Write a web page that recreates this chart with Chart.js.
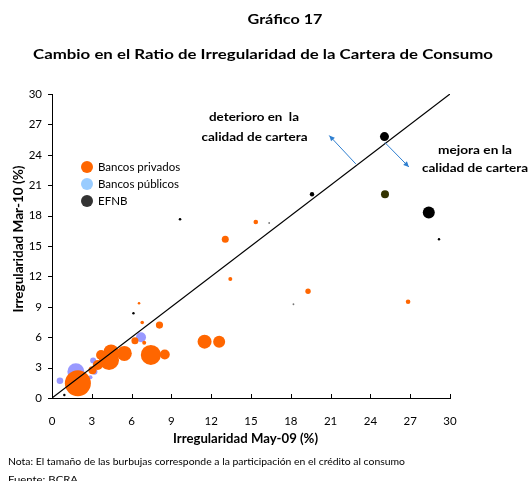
<!DOCTYPE html>
<html><head><meta charset="utf-8">
<script src="https://cdn.jsdelivr.net/npm/chart.js@4.4.1/dist/chart.umd.min.js"></script>
<style>html,body{margin:0;padding:0;background:#fff}canvas{display:block}</style>
</head><body>
<canvas id="c" width="530" height="481"></canvas>
<script>
// ---- Data ----
const xTicks = [0, 3, 6, 9, 12, 15, 18, 21, 24, 27, 30];
const yTicks = [0, 3, 6, 9, 12, 15, 18, 21, 24, 27, 30];

// Bancos privados: May-09 (x), Mar-10 (y), bubble size (r)
const privX = [1.95, 3.05, 3.45, 3.7, 4.3, 4.45, 5.45, 6.25, 6.95, 6.8, 6.56, 8.1, 7.45, 8.5, 11.5, 12.6, 13.44, 13.06, 15.36, 19.3, 26.84];
const privY = [1.45, 2.75, 3.25, 4.25, 3.75, 4.55, 4.4, 5.65, 5.45, 7.45, 9.35, 7.2, 4.25, 4.3, 5.56, 5.56, 11.75, 15.67, 17.37, 10.53, 9.5];
const privR = [13, 4, 5, 5, 10, 7.5, 7.5, 3.5, 2, 1.8, 1.3, 3.6, 10, 5, 7, 6, 2, 3.5, 2.3, 2.7, 2.3];

// Bancos públicos
const pubX = [0.6, 1.8, 3.1, 3.2, 2.9, 6.71];
const pubY = [1.7, 2.6, 3.7, 2.6, 2.05, 5.99];
const pubR = [3.3, 8.5, 3, 3, 2, 5];

// EFNB
const efnbX = [25.06, 25.1, 28.4, 19.6, 9.65, 29.17, 6.14, 0.93, 16.37, 18.2];
const efnbY = [25.8, 20.1, 18.3, 20.1, 17.64, 15.67, 8.36, 0.3, 17.27, 9.25];
const efnbR = [4.5, 4, 6, 2.2, 1.3, 1.2, 1.2, 1.2, 0.9, 0.9];
const efnbColors = ['#000000', '#333300', '#000000', '#000000', '#000000', '#000000', '#000000', '#000000', '#777777', '#777777'];

const legendLabels = ['Bancos privados', 'Bancos públicos', 'EFNB'];
const legendColors = ['#ff6600', '#99ccff', '#333333'];

const toPts = (xs, ys, rs) => xs.map((x, i) => ({x: x, y: ys[i], r: rs[i]}));

const FONT = 'Lato, "Open Sans", sans-serif';

// draw text centred (or left-aligned) stretched to a target width
function fitText(ctx, text, x, y, width, font, align) {
  ctx.save();
  ctx.font = font;
  const w = ctx.measureText(text).width;
  const s = width / w;
  ctx.translate(x, y);
  ctx.scale(s, 1);
  ctx.textAlign = align || 'center';
  ctx.textBaseline = 'middle';
  ctx.fillText(text, 0, 0);
  ctx.restore();
}

const overlay = {
  id: 'overlay',
  afterDraw(chart) {
    const ctx = chart.ctx;
    const xs = chart.scales.x, ys = chart.scales.y;
    const ca = chart.chartArea;
    ctx.save();
    // tick marks
    ctx.strokeStyle = '#000'; ctx.lineWidth = 1;
    xTicks.forEach(v => {
      const px = Math.round(xs.getPixelForValue(v)) + 0.5;
      ctx.beginPath(); ctx.moveTo(px, ca.bottom); ctx.lineTo(px, ca.bottom - 4); ctx.stroke();
    });
    yTicks.forEach(v => {
      const py = Math.round(ys.getPixelForValue(v)) + 0.5;
      ctx.beginPath(); ctx.moveTo(ca.left - 4, py); ctx.lineTo(ca.left, py); ctx.stroke();
    });

    ctx.fillStyle = '#000';
    const B14 = 'bold 14px ' + FONT, B12 = 'bold 12.5px ' + FONT, B11 = 'bold 12px ' + FONT;
    // titles
    fitText(ctx, 'Gráfico 17', 285, 19, 75, B14);
    fitText(ctx, 'Cambio en el Ratio de Irregularidad de la Cartera de Consumo', 263, 54, 460, B14);

    // axis titles
    fitText(ctx, 'Irregularidad May-09 (%)', 245.5, 439, 145, B12);
    ctx.save();
    ctx.translate(19, 239);
    ctx.rotate(-Math.PI / 2);
    fitText(ctx, 'Irregularidad Mar-10 (%)', 0, 0, 147, B12);
    ctx.restore();

    // annotations
    fitText(ctx, 'deterioro en  la', 254, 117, 90, B11);
    fitText(ctx, 'calidad de cartera', 254.5, 137, 106, B11);
    fitText(ctx, 'mejora en la', 475, 150, 74, B11);
    fitText(ctx, 'calidad de cartera', 475, 168, 106, B11);

    // arrows
    const arrow = (x1, y1, x2, y2) => {
      const p1x = xs.getPixelForValue(x1), p1y = ys.getPixelForValue(y1);
      const p2x = xs.getPixelForValue(x2), p2y = ys.getPixelForValue(y2);
      ctx.strokeStyle = '#2f7fd0'; ctx.fillStyle = '#2f7fd0'; ctx.lineWidth = 1;
      ctx.beginPath(); ctx.moveTo(p1x, p1y); ctx.lineTo(p2x, p2y); ctx.stroke();
      const a = Math.atan2(p2y - p1y, p2x - p1x);
      const L = 6, W = 0.45;
      ctx.beginPath();
      ctx.moveTo(p2x, p2y);
      ctx.lineTo(p2x - L * Math.cos(a - W), p2y - L * Math.sin(a - W));
      ctx.lineTo(p2x - L * Math.cos(a + W), p2y - L * Math.sin(a + W));
      ctx.closePath(); ctx.fill();
    };
    arrow(22.9, 23.1, 20.9, 25.9);
    arrow(25.1, 25.2, 26.9, 22.8);

    // legend
    legendLabels.forEach((lab, i) => {
      const cy = 167 + i * 17;
      ctx.fillStyle = legendColors[i];
      ctx.beginPath(); ctx.arc(87, cy, 6, 0, Math.PI * 2); ctx.fill();
    });
    ctx.fillStyle = '#000';
    ctx.font = '11.5px ' + FONT;
    ctx.textAlign = 'left';
    ctx.textBaseline = 'middle';
    legendLabels.forEach((lab, i) => {
      ctx.fillText(lab, 98, 167 + i * 17);
    });

    // footnote
    fitText(ctx, 'Nota: El tamaño de las burbujas corresponde a la participación en el crédito al consumo', 8, 462, 397, '10px ' + FONT, 'left');
    fitText(ctx, 'Fuente: BCRA', 8, 480, 70, '10px ' + FONT, 'left');
    ctx.restore();
  }
};

new Chart(document.getElementById('c'), {
  type: 'bubble',
  data: {
    datasets: [
      {
        type: 'line', label: 'diagonal',
        data: [{x: 0, y: 0}, {x: 30, y: 30}],
        borderColor: '#000', borderWidth: 1.2, pointRadius: 0, fill: false, order: 0
      },
      {label: legendLabels[2], data: toPts(efnbX, efnbY, efnbR), backgroundColor: efnbColors, borderWidth: 0, order: 1},
      {label: legendLabels[0], data: toPts(privX, privY, privR), backgroundColor: '#ff6600', borderWidth: 0, order: 2},
      {label: legendLabels[1], data: toPts(pubX, pubY, pubR), backgroundColor: '#9999ff', borderWidth: 0, order: 3}
    ]
  },
  options: {
    responsive: false,
    animation: false,
    devicePixelRatio: 1,
    layout: {padding: {left: 0, top: 94, right: 80, bottom: 0}},
    plugins: {legend: {display: false}, tooltip: {enabled: false}, title: {display: false}},
    elements: {point: {hoverRadius: 0}},
    scales: {
      x: {
        type: 'linear', min: 0, max: 30,
        afterFit: s => { s.height = 83; },
        afterBuildTicks: s => { s.ticks = xTicks.map(v => ({value: v})); },
        grid: {display: false, drawTicks: false},
        border: {display: true, color: '#000', width: 1},
        ticks: {font: {family: FONT, size: 11.5}, color: '#000', padding: 16, maxRotation: 0}
      },
      y: {
        type: 'linear', min: 0, max: 30,
        afterFit: s => { s.width = 52; },
        afterBuildTicks: s => { s.ticks = yTicks.map(v => ({value: v})); },
        grid: {display: false, drawTicks: false},
        border: {display: true, color: '#000', width: 1},
        ticks: {font: {family: FONT, size: 11.5}, color: '#000', padding: 10}
      }
    }
  },
  plugins: [overlay]
});
</script>
</body></html>
